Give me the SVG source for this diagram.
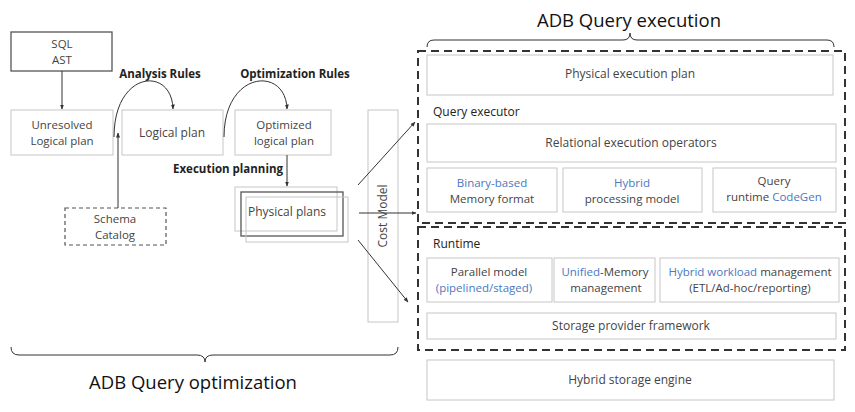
<svg xmlns="http://www.w3.org/2000/svg" width="855" height="412" viewBox="0 0 855 412">
<defs>
<marker id="arr" viewBox="0 0 10 10" refX="9" refY="5" markerWidth="5" markerHeight="5" orient="auto-start-reverse">
<path d="M0,1 L10,5 L0,9 z" fill="#333"/>
</marker>
<style>
text{font-family:"Open Sans","Noto Sans",sans-serif;fill:#444;font-size:12px}
.two{font-size:11.5px}
.box{fill:#fff;stroke:#c6c6c6;stroke-width:1}
.open{fill:none;stroke:#c6c6c6;stroke-width:1}
.dark{fill:#fff;stroke:#555;stroke-width:1.3}
.dash{fill:none;stroke:#555;stroke-width:1.2;stroke-dasharray:4,3}
.bigdash{fill:none;stroke:#333;stroke-width:2;stroke-dasharray:8,5}
.c{text-anchor:middle}
.b{font-weight:bold;fill:#222;font-size:11.5px}
.t{font-size:18.5px;fill:#111}
.blue{fill:#4a78c2}
.ln{fill:none;stroke:#333;stroke-width:1}
</style>
</defs>
<rect width="855" height="412" fill="#fff"/>

<g id="sql-ast"><rect class="dark" x="11" y="32" width="101" height="39"/><text class="c two" x="62" y="48">SQL</text><text class="c two" x="62" y="64">AST</text></g>
<g id="unresolved"><rect class="box" x="11" y="110" width="102" height="45"/><text class="c two" x="62" y="129">Unresolved</text><text class="c two" x="62" y="145">Logical plan</text></g>
<g id="logical"><rect class="box" x="122" y="110" width="101" height="45"/><text class="c" x="172" y="137">Logical plan</text></g>
<g id="optimized"><rect class="box" x="235" y="110" width="96" height="45"/><text class="c two" x="284" y="129">Optimized</text><text class="c two" x="284" y="145">logical plan</text></g>
<g id="schema"><rect class="dash" x="65" y="208" width="101" height="37"/><text class="c two" x="115" y="223">Schema</text><text class="c two" x="115" y="239">Catalog</text></g>
<g id="physical-plans">
<rect class="open" x="235" y="187" width="102" height="44"/>
<rect x="241" y="192" width="102" height="44" fill="none" stroke="#555" stroke-width="1.3"/>
<rect class="open" x="246" y="197" width="102" height="45"/>
<text x="248" y="216">Physical plans</text>
</g>
<g id="cost-model"><rect class="open" x="368" y="110" width="30" height="212"/><text class="c" transform="translate(387,216) rotate(-90)">Cost Model</text></g>

<g id="labels">
<text class="b c" x="160" y="78">Analysis Rules</text>
<text class="b c" x="295" y="78">Optimization Rules</text>
<text class="b c" x="228" y="173">Execution planning</text>
</g>

<g id="brace-left">
<path class="ln" d="M11,347 Q11,355 19,355 L197,355 Q205,355 205,362 Q205,355 213,355 L390,355 Q398,355 398,347"/>
<text class="t c" x="193" y="389">ADB Query optimization</text>
</g>

<g id="brace-right">
<text class="t c" x="629" y="27">ADB Query execution</text>
<path class="ln" d="M427,47 Q427,40 434,40 L623,40 Q630,40 630,33 Q630,40 637,40 L827,40 Q834,40 834,47"/>
</g>

<g id="query-execution">
<rect class="bigdash" x="418" y="51" width="427" height="172"/>
<g id="physical-execution-plan"><rect class="box" x="427" y="55" width="406" height="40"/><text class="c" x="630" y="78">Physical execution plan</text></g>
<text x="433" y="116" style="fill:#222">Query executor</text>
<g id="relational"><rect class="box" x="427" y="124" width="409" height="38"/><text class="c" x="631" y="147">Relational execution operators</text></g>
<g id="binary"><rect class="box" x="427" y="168" width="130" height="44"/><text class="c blue two" x="492" y="187">Binary-based</text><text class="c two" x="492" y="203">Memory format</text></g>
<g id="hybrid-proc"><rect class="box" x="563" y="168" width="139" height="44"/><text class="c blue two" x="632" y="187">Hybrid</text><text class="c two" x="632" y="203">processing model</text></g>
<g id="codegen"><rect class="box" x="713" y="168" width="123" height="44"/><text class="c two" x="774" y="185">Query</text><text class="c two" x="774" y="201">runtime <tspan class="blue">CodeGen</tspan></text></g>
</g>

<g id="runtime">
<rect class="bigdash" x="418" y="227" width="427" height="123"/>
<text x="433" y="248" style="fill:#222">Runtime</text>
<g id="parallel"><rect class="box" x="427" y="258" width="125" height="44"/><text class="c two" x="489" y="276">Parallel model</text><text class="c blue two" x="484" y="292">(pipelined/staged)</text></g>
<g id="unified"><rect class="box" x="554" y="258" width="101" height="44"/><text class="c two" x="605" y="276"><tspan class="blue">Unified</tspan>-Memory</text><text class="c two" x="606" y="292">management</text></g>
<g id="workload"><rect class="box" x="660" y="258" width="179" height="44"/><text class="c two" x="750" y="276"><tspan class="blue">Hybrid workload</tspan> management</text><text class="c two" x="750" y="292">(ETL/Ad-hoc/reporting)</text></g>
<g id="storage-provider"><rect class="box" x="427" y="313" width="409" height="26"/><text class="c" x="631" y="330">Storage provider framework</text></g>
</g>

<g id="storage-engine"><rect class="box" x="427" y="360" width="407" height="40"/><text class="c" x="630" y="384">Hybrid storage engine</text></g>

<g id="connectors">
<line class="ln" x1="62" y1="71" x2="62" y2="109" marker-end="url(#arr)"/>
<path class="ln" d="M114,137 C114,70 172,66 173,109" marker-end="url(#arr)"/>
<path class="ln" d="M224,137 C224,70 286,66 287,109" marker-end="url(#arr)"/>
<line class="ln" x1="118" y1="208" x2="118" y2="133" marker-end="url(#arr)"/>
<line class="ln" x1="287" y1="155" x2="287" y2="186" marker-end="url(#arr)"/>
<line class="ln" x1="358" y1="185" x2="415" y2="122" marker-end="url(#arr)"/>
<line class="ln" x1="359" y1="213" x2="416" y2="213" marker-end="url(#arr)"/>
<line class="ln" x1="358" y1="240" x2="408" y2="302" marker-end="url(#arr)"/>
</g>
</svg>
